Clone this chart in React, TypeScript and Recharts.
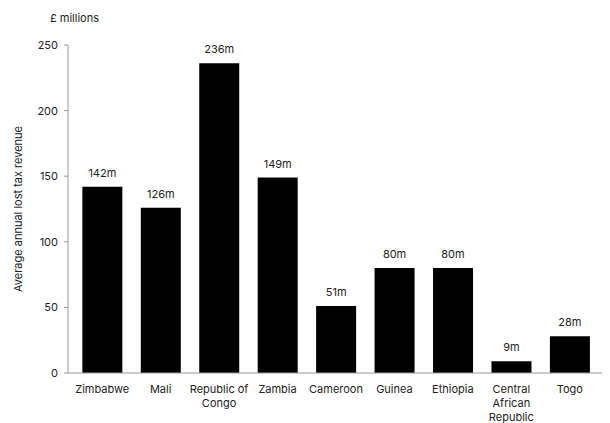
import React from 'react';
import {Bar, BarChart, LabelList, XAxis, YAxis, Label} from 'recharts';

const countries: string[] = ['Zimbabwe', 'Mali', 'Republic of Congo', 'Zambia', 'Cameroon', 'Guinea', 'Ethiopia', 'Central African Republic', 'Togo'];
const lostRevenue: number[] = [142, 126, 236, 149, 51, 80, 80, 9, 28];
const tickLines: Record<string, string[]> = {
    'Republic of Congo': ['Republic of', 'Congo'],
    'Central African Republic': ['Central', 'African', 'Republic'],
};
const yTicks: number[] = [0, 50, 100, 150, 200, 250];

const data = countries.map((name, i) => ({name, value: lostRevenue[i]}));

const FONT = 'Inter, "Liberation Sans", sans-serif';

function CountryTick(props: any): React.JSX.Element {
    const {x, y, payload} = props;
    const lines = tickLines[payload.value] ?? [payload.value];
    return (
        <text x={x} y={y} textAnchor="middle" fontSize={11} fill="#222" fontFamily={FONT}>
            {lines.map((l, i) => (
                <tspan key={i} x={x} dy={i === 0 ? 12 : 14}>{l}</tspan>
            ))}
        </text>
    );
}

export default function App(): React.JSX.Element {
    return (
        <div style={{position: 'absolute', left: 0, top: 0, width: 610, height: 423, background: '#fff', fontFamily: FONT}}>
            <div style={{position: 'absolute', left: 50, top: 11, fontSize: 11, color: '#222'}}>£ millions</div>
            <BarChart width={610} height={423} data={data} barCategoryGap="16%"
                      margin={{top: 45, right: 8, left: 0, bottom: 0}}>
                <XAxis dataKey="name" height={50} tickLine={false} stroke="#999" interval={0}
                       padding={{left: 5, right: 3}} tick={<CountryTick/>}/>
                <YAxis domain={[0, 250]} ticks={yTicks} width={68} stroke="#999" tickSize={4} tickMargin={6}
                       tick={{fill: '#222', fontSize: 11, fontFamily: FONT}}>
                    <Label value="Average annual lost tax revenue" angle={-90} position="insideLeft" offset={18}
                           style={{textAnchor: 'middle', fontSize: 11, fill: '#222', fontFamily: FONT}}/>
                </YAxis>
                <Bar dataKey="value" fill="#000" isAnimationActive={false}>
                    <LabelList dataKey="value" position="top" offset={10} formatter={(v: any) => `${v}m`}
                               style={{fontSize: 11, fill: '#222', fontFamily: FONT}}/>
                </Bar>
            </BarChart>
        </div>
    );
}
